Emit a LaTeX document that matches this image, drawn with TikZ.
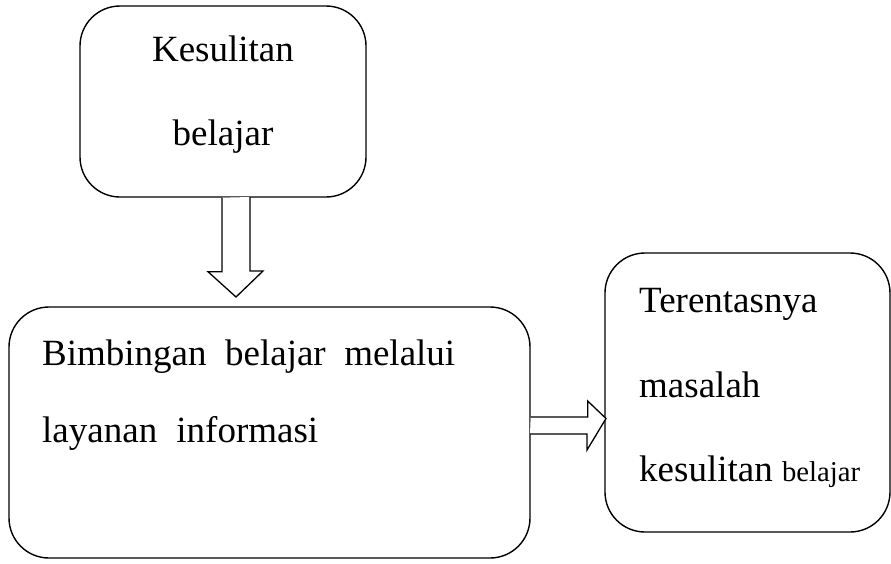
\documentclass[tikz,border=0pt]{standalone}
\usepackage{fontspec}
\setmainfont{Liberation Serif}
\usetikzlibrary{calc}
\begin{document}
\begin{tikzpicture}[x=1pt,y=-1pt,
  box/.style={draw,line width=1.4pt,rounded corners=40pt,inner sep=0pt},
  txt/.style={inner sep=0pt,font=\fontsize{37}{44}\selectfont},
  blockarrow/.style={draw,line width=1.3pt,fill=white,line join=miter}]
\useasboundingbox (0,0) rectangle (891,563);
% boxes
\node[box,minimum width=286pt,minimum height=191pt] (top) at (223,101.5) {};
\node[box,minimum width=521pt,minimum height=251pt] (mid) at (269.5,432.5) {};
\node[box,minimum width=285pt,minimum height=279pt] (right) at (747.5,392.5) {};
% texts
\node[txt,anchor=base] (t1) at (223,61) {Kesulitan};
\node[txt,anchor=base] (t2) at (223,145) {belajar};
\node[txt,anchor=base west] (m1) at (42,365) {\makebox[413pt][s]{Bimbingan belajar melalui}};
\node[txt,anchor=base west] (m2) at (42,442) {\makebox[276pt][s]{layanan informasi}};
\node[txt,anchor=base west] (r1) at (639,312) {Terentasnya};
\node[txt,anchor=base west] (r2) at (639,397) {masalah};
\node[txt,anchor=base west] (r3) at (639,481) {kesulitan {\fontsize{28.7}{34}\selectfont belajar}};
% block arrows
\coordinate (dtip) at (236,297);
\draw[blockarrow] ($(top.south)+(-1,0)$) -- ++(0,74) -- ++(-14,0) -- (dtip) -- ++(27,-26) -- ++(-13,0) -- ++(0,-74);
\coordinate (rtip) at (606,418.5);
\draw[blockarrow] ($(mid.east)+(0,-15.5)$) -- ++(57,0) -- ++(0,-16) -- (rtip) -- ++(-19,31.5) -- ++(0,-16) -- ++(-57,0);
\end{tikzpicture}
\end{document}
